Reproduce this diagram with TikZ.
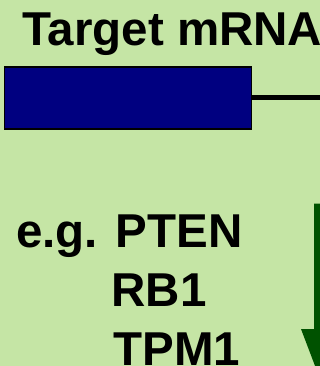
\documentclass[tikz,border=0pt]{standalone}
\usepackage{fontspec}
\setmainfont{Liberation Sans}
\definecolor{bgreen}{HTML}{C5E5A5}
\definecolor{boxnavy}{HTML}{000080}
\definecolor{arrowgreen}{HTML}{005200}
\tikzset{
  label text/.style={anchor=base west, inner sep=0pt, font=\fontsize{47.5}{52}\selectfont\bfseries, text=black},
}
\begin{document}
\begin{tikzpicture}[x=1pt,y=-1pt]
  % canvas
  \useasboundingbox (0,0) rectangle (320,366);
  \clip (0,0) rectangle (320,366);
  \fill[bgreen] (0,0) rectangle (320,366);

  % title
  \node[label text] (title) at (22,45.5) {Target mRNA};

  % coding block and the strand leaving it
  \node[draw=black, line width=1.5pt, fill=boxnavy, minimum width=247pt, minimum height=62pt,
        inner sep=0pt, anchor=north west] (block) at (3.5,66.5) {};
  \coordinate (strandend) at (330,97.7);
  \draw[line width=5pt] (block.east |- strandend) -- (strandend);

  % examples
  \node[label text] (eg)   at (16,247) {e.g. PTEN};
  \node[label text] (rb)   at (111.5,306) {RB1};
  \node[label text] (tpm)  at (113.5,365) {TPM1};

  % downward arrow
  \coordinate (shafttop) at (320,203.5);
  \coordinate (headbase) at (320,329);
  \coordinate (tip) at (320,379);
  \fill[arrowgreen] ([xshift=-6pt]shafttop) -- ([xshift=6pt]shafttop)
        -- ([xshift=6pt]headbase) -- ([xshift=19pt]headbase) -- (tip)
        -- ([xshift=-19pt]headbase) -- ([xshift=-6pt]headbase) -- cycle;
\end{tikzpicture}
\end{document}
